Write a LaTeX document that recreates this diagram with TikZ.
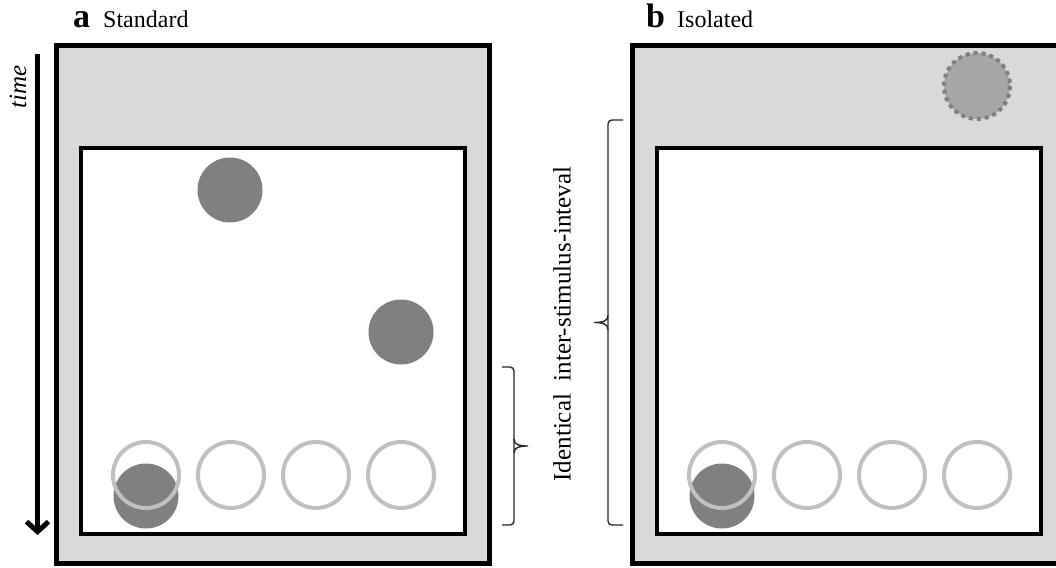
\documentclass[tikz,border=0pt]{standalone}
\usepackage{fontspec}
\setmainfont{Liberation Serif}
\usetikzlibrary{arrows.meta}
\definecolor{frameGray}{HTML}{D9D9D9}
\definecolor{dotGray}{HTML}{808080}
\definecolor{ringGray}{HTML}{C0C0C0}
\definecolor{cueGray}{HTML}{A6A6A6}

\tikzset{
  outerbox/.style={fill=frameGray, draw=black, line width=5pt},
  innerbox/.style={fill=white, draw=black, line width=4pt},
  ringline/.style={draw=ringGray, line width=4pt},
  bracestroke/.style={draw=black!85, line width=1.4pt},
  panellabel/.style={anchor=base west, inner sep=0pt, font=\fontsize{34}{34}\bfseries\selectfont},
  paneltitle/.style={anchor=base west, inner sep=0pt, font=\fontsize{24}{24}\selectfont},
}
% #1 x of the spine, #2 top, #3 bottom, #4 = 1 hooks to the right, -1 hooks to the left
\newcommand{\drawbrace}[5]{%
  \draw[bracestroke, rounded corners=4pt] (#1+#4*#5,#2) -- (#1,#2) -- (#1,#3) -- (#1+#4*#5,#3);
  \draw[bracestroke] (#1,{(#2+#3)/2-7}) .. controls (#1,{(#2+#3)/2-1}) and (#1-#4*6,{(#2+#3)/2}) .. (#1-#4*14,{(#2+#3)/2})
    .. controls (#1-#4*6,{(#2+#3)/2}) and (#1,{(#2+#3)/2+1}) .. (#1,{(#2+#3)/2+7});
}

\begin{document}
\begin{tikzpicture}[x=1pt, y=-1pt]
  % 1 unit = 1 pixel of the 1056 x 567 figure, y pointing down
  \useasboundingbox (0,0) rectangle (1056,567);
  \clip (0,0) rectangle (1056,567);
  \def\rdot{32.5}
  \def\rring{33}
  \def\shiftb{576}
  % time arrow
  \draw[line width=5pt, -{Straight Barb[length=10pt, width=22pt]}] (37.5,54) -- (37.5,535);
  \node[rotate=90, inner sep=0pt, font=\fontsize{25}{25}\itshape\selectfont] (timeLbl) at (18,87) {time};
  % panel a: Standard
  \node[panellabel] (labA) at (73,28) {a};
  \node[paneltitle] (titA) at (103,28) {Standard};
  \draw[outerbox] (56,46) rectangle (489,563);
  \draw[innerbox] (81,148) rectangle (465,534);
  \fill[dotGray] (230,190) circle (\rdot);
  \fill[dotGray] (401,332) circle (\rdot);
  \fill[dotGray] (146,496) circle (\rdot);
  \foreach \k in {0,...,3} {
    \draw[ringline] (146+85*\k,475) circle (\rring);
  }
  % panel b: Isolated
  \node[panellabel] (labB) at (646,28) {b};
  \node[paneltitle] (titB) at (677,28) {Isolated};
  \begin{scope}[xshift=\shiftb pt]
    \draw[outerbox] (56,46) rectangle (489,563);
    \draw[innerbox] (81,148) rectangle (465,534);
    \fill[dotGray] (146,496) circle (\rdot);
    \foreach \k in {0,...,3} {
      \draw[ringline] (146+85*\k,475) circle (\rring);
    }
  \end{scope}
  % cue in the grey area of panel b
  \draw[fill=cueGray, draw=dotGray, line width=4pt, dash pattern=on 4pt off 4pt] (977,86) circle (33);
  % inter-stimulus intervals
  \drawbrace{514}{367}{525}{-1}{12}
  \drawbrace{608}{120}{525}{1}{15}
  \node[rotate=90, inner sep=0pt, font=\fontsize{25}{25}\selectfont] (isiLbl) at (562,324) {Identical\ \ inter-stimulus-inteval};
\end{tikzpicture}
\end{document}
